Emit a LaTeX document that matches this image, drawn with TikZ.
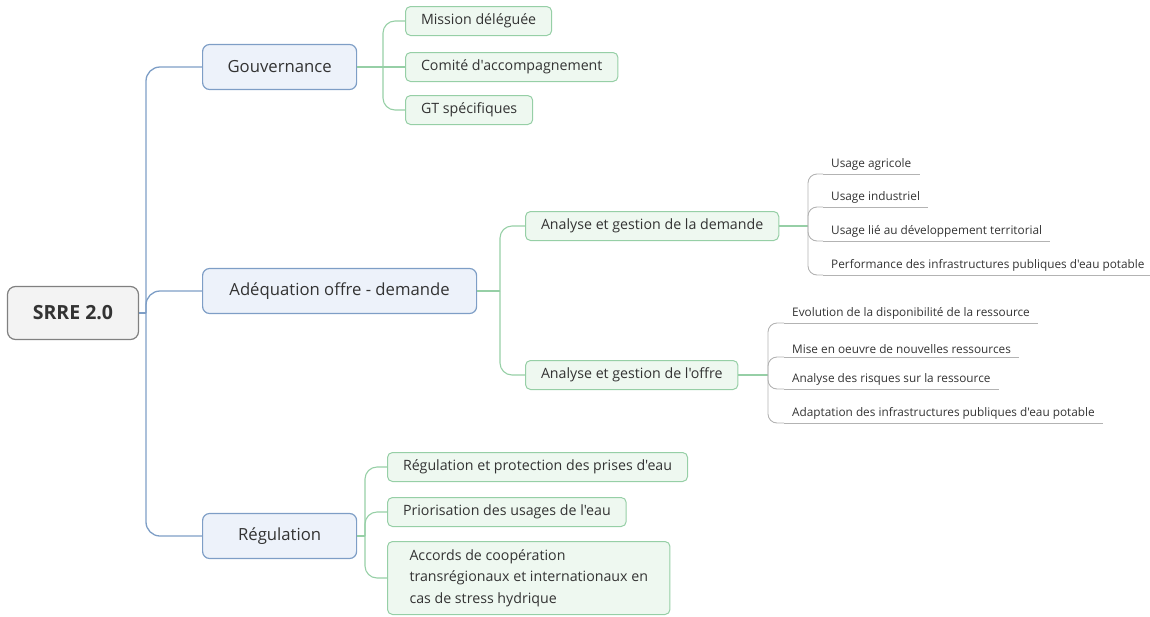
\documentclass[tikz,border=0pt]{standalone}
\usepackage{fontspec}
\setmainfont{Open Sans}[Ligatures=TeXOff]
\usepackage{xcolor}
\usepackage{tikz}
\usetikzlibrary{positioning}

\definecolor{txt}{HTML}{333333}
\definecolor{rootfill}{HTML}{F3F3F3}
\definecolor{rootline}{HTML}{808080}
\definecolor{bluefill}{HTML}{EDF2FA}
\definecolor{blueline}{HTML}{7E9EC6}
\definecolor{greenfill}{HTML}{EEF8F0}
\definecolor{greenline}{HTML}{96CFA6}
\definecolor{greyline}{HTML}{B3B3B3}

\begin{document}
\begin{tikzpicture}[
  x=1pt, y=-1pt,
  rootbox/.style={draw=rootline, fill=rootfill, rounded corners=8pt, line width=1.2pt, text=txt, font=\fontsize{19.5}{22}\selectfont\bfseries, minimum width=131pt, minimum height=53pt},
  mainbox/.style={draw=blueline, fill=bluefill, rounded corners=7pt, line width=1.2pt, text=txt, font=\fontsize{16.7}{20}\selectfont, minimum height=45pt, anchor=west},
  subbox/.style={draw=greenline, fill=greenfill, rounded corners=5pt, line width=1pt, text=txt, font=\fontsize{14.2}{17}\selectfont, minimum height=29pt, inner xsep=15.5pt, anchor=west},
  leaf/.style={text=txt, font=\fontsize{11.8}{14}\selectfont, inner xsep=8pt, inner ysep=3pt, anchor=south west},
  bluelink/.style={draw=blueline, line width=1.3pt, rounded corners=14pt},
  greenlink/.style={draw=greenline, line width=1.1pt, rounded corners=12pt},
  greylink/.style={draw=greyline, line width=0.9pt, rounded corners=9pt}
]
\useasboundingbox (0,0) rectangle (1150,616);

% root and main branches
\node[rootbox] (srre) at (73,313) {SRRE 2.0};
\node[mainbox, minimum width=154pt] (gouv) at (202,67) {Gouvernance};
\node[mainbox, minimum width=274pt] (adeq) at (202,291) {Adéquation offre - demande};
\node[mainbox, minimum width=154pt] (regu) at (202,536) {Régulation};

\coordinate (jroot) at (146,313);
\draw[bluelink] (srre.east) -- (jroot);
\draw[bluelink] (jroot) |- (gouv.west);
\draw[bluelink] (jroot) |- (adeq.west);
\draw[bluelink] (jroot) |- (regu.west);

% Gouvernance
\node[subbox] (mission) at (405,21) {Mission déléguée};
\node[subbox] (comite) at (405,67) {Comité d'accompagnement};
\node[subbox] (gt) at (405,110) {GT spécifiques};

\coordinate (jgouv) at (383,67);
\draw[greenlink] (gouv.east) -- (jgouv);
\draw[greenlink] (jgouv) |- (mission.west);
\draw[greenlink] (jgouv) -- (comite.west);
\draw[greenlink] (jgouv) |- (gt.west);

% Adequation offre - demande
\node[subbox] (demande) at (525,226) {Analyse et gestion de la demande};
\node[subbox] (offre) at (525,375) {Analyse et gestion de l'offre};

\coordinate (jadeq) at (500,291);
\draw[greenlink] (adeq.east) -- (jadeq);
\draw[greenlink] (jadeq) |- (demande.west);
\draw[greenlink] (jadeq) |- (offre.west);

% usages
\node[leaf] (agri) at (823,174) {Usage agricole};
\node[leaf] (indus) at (823,207) {Usage industriel};
\node[leaf] (terri) at (823,241) {Usage lié au développement territorial};
\node[leaf] (perf) at (823,275) {Performance des infrastructures publiques d'eau potable};
\foreach \n in {agri,indus,terri,perf}
  \draw[greyline, line width=0.9pt] (\n.south west) -- (\n.south east);

\coordinate (jdem) at (808,226);
\draw[greenlink] (demande.east) -- (jdem);
\foreach \n in {agri,indus,terri,perf}
  \draw[greylink] (jdem) |- (\n.south west);

% ressources
\node[leaf] (evol) at (784,323) {Evolution de la disponibilité de la ressource};
\node[leaf] (mise) at (784,357) {Mise en oeuvre de nouvelles ressources};
\node[leaf] (risq) at (784,389) {Analyse des risques sur la ressource};
\node[leaf] (adap) at (784,423) {Adaptation des infrastructures publiques d'eau potable};
\foreach \n in {evol,mise,risq,adap}
  \draw[greyline, line width=0.9pt] (\n.south west) -- (\n.south east);

\coordinate (joff) at (768,375);
\draw[greenlink] (offre.east) -- (joff);
\foreach \n in {evol,mise,risq,adap}
  \draw[greylink] (joff) |- (\n.south west);

% Regulation
\node[subbox] (prises) at (387,467) {Régulation et protection des prises d'eau};
\node[subbox] (prio) at (387,512) {Priorisation des usages de l'eau};
\node[subbox, minimum height=73pt, align=left, inner xsep=22pt, font=\fontsize{14.2}{21.5}\selectfont] (accords) at (387,578) {Accords de coopération\\transrégionaux et internationaux en\\cas de stress hydrique};

\coordinate (jregu) at (365,536);
\draw[greenlink] (regu.east) -- (jregu);
\draw[greenlink] (jregu) |- (prises.west);
\draw[greenlink] (jregu) |- (prio.west);
\draw[greenlink] (jregu) |- (accords.west);
\end{tikzpicture}
\end{document}
